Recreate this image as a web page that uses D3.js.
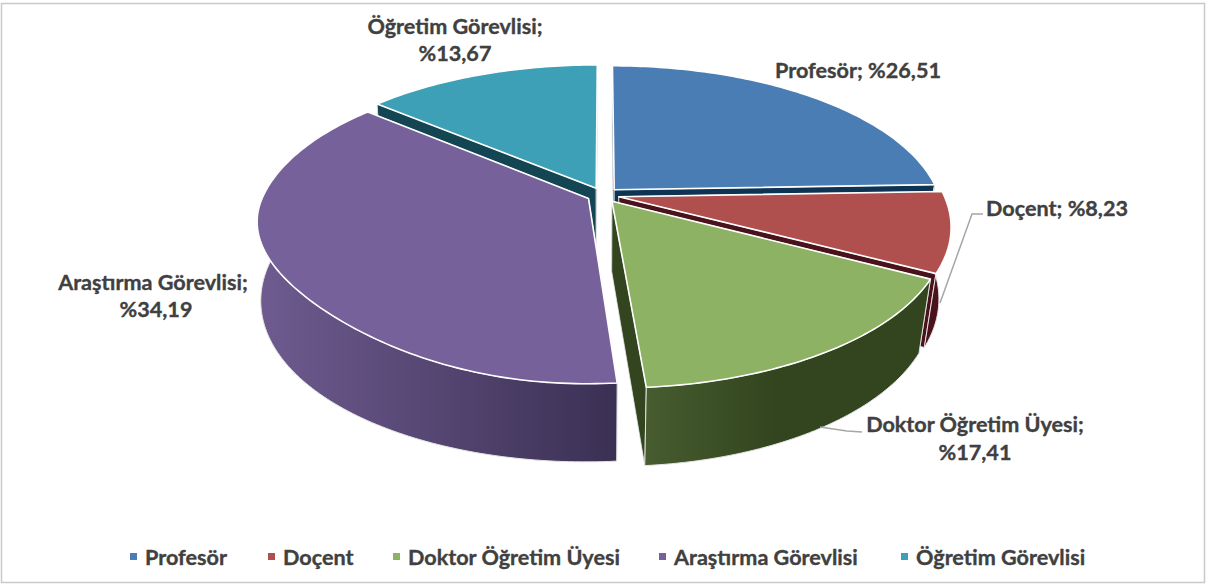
<!DOCTYPE html>
<html>
<head>
<meta charset="utf-8">
<script src="https://cdn.jsdelivr.net/npm/d3@7"></script>
<style>
  body { margin: 0; background: #fff; }
  text { font-family: Lato, "Open Sans", sans-serif; font-weight: 700; fill: #404040; stroke: #404040; stroke-width: 0.35; }
</style>
</head>
<body>
<script>
const categories = ['Profesör', 'Doçent', 'Doktor Öğretim Üyesi', 'Araştırma Görevlisi', 'Öğretim Görevlisi'];
const shares = [26.51, 8.23, 17.41, 34.19, 13.67];

const topColors = ['#4a7db3', '#b0504e', '#8db263', '#77619a', '#3ea0b6'];
const wallColors = [['#0f3352', '#0f3352'], ['#4a121b', '#4a121b'], ['#475c2f', '#32451f'], ['#6f5b90', '#3a3053'], ['#134652', '#134652']];
// back to front
const drawOrder = [4, 0, 1, 3, 2];

const legendX = [145, 283, 408, 674, 916];
const labelLines = [
  [[858, 70]],
  [[1057, 208]],
  [[975, 424], [975, 452]],
  [[153, 282], [156, 309]],
  [[455, 26], [455, 53]]
];
const leaders = {
  1: [[940, 303], [972, 214], [983, 214]],
  2: [[820, 427], [847, 431], [862, 432]]
};

const width = 1208, height = 586;
const cx = 603, cy = 195;
const rx = 325, ry = 149, persp = 0.188, explode = 0.05;

const svg = d3.select('body').append('svg').attr('width', width).attr('height', height);
const defs = svg.append('defs');

svg.append('rect')
  .attr('x', 1.5).attr('y', 3.5).attr('width', 1203).attr('height', 579)
  .attr('fill', '#fff').attr('stroke', '#c9c9c9').attr('stroke-width', 1.5);

// the picture's 3D view squeezes the front of the pie, so pie angles are remapped
const deg = d3.scaleLinear()
  .domain([0, 95.4, 125.1, 187.8, 310.9, 360])
  .range([0, 88, 118, 175.5, 310.3, 360]);

const arcs = d3.pie().sort(null).value(d => d)(shares).map(a => {
  const start = deg(a.startAngle * 180 / Math.PI), end = deg(a.endAngle * 180 / Math.PI);
  const mid = (start + end) / 2 * Math.PI / 180;
  return { start, end, ox: explode * Math.sin(mid), oy: -explode * Math.cos(mid) };
});

// ground plane to screen; level 1 is the underside of the pie
function project(x, y, level) {
  const w = 1 - persp * y;
  const sx = cx + rx * x / w, sy = cy + ry * y / w;
  if (!level) return [sx, sy];
  return [cx + (sx < cx ? 0.985 : 0.965) * (sx - cx), sy + 70 + 8 * y];
}

function rim(a, d, level) {
  const t = d * Math.PI / 180;
  // top edge sits a little tighter in the front left quarter
  const r = !level && d > 180 && d < 270 ? 1 - 0.04 * Math.pow(Math.sin(2 * t), 2) : 1;
  return project(a.ox + r * Math.sin(t), a.oy - r * Math.cos(t), level);
}

function rimPoints(a, from, to, level) {
  const n = Math.max(2, Math.ceil(Math.abs(to - from)));
  return d3.range(n + 1).map(i => rim(a, from + (to - from) * i / n, level));
}

const line = d3.line();

function drawFace(points, fill, edge, w) {
  svg.append('path')
    .attr('d', line(points) + 'Z')
    .attr('fill', fill)
    .attr('stroke', edge)
    .attr('stroke-width', w)
    .attr('stroke-linejoin', 'round');
}

drawOrder.forEach(i => {
  const a = arcs[i];
  const apexTop = project(a.ox, a.oy, 0), apexBottom = project(a.ox, a.oy, 1);

  const grad = defs.append('linearGradient')
    .attr('id', 'wall' + i)
    .attr('gradientUnits', 'userSpaceOnUse');
  const wallFrom = Math.max(a.start, 88), wallTo = Math.min(a.end, 280);
  if (wallTo > wallFrom) {
    const xs = d3.extent(rimPoints(a, wallFrom, wallTo, 0), p => p[0]);
    grad.attr('x1', xs[0]).attr('x2', i === 2 ? xs[0] + (xs[1] - xs[0]) * 0.45 : xs[1]).attr('y1', 0).attr('y2', 0);
  }
  grad.append('stop').attr('offset', 0).attr('stop-color', wallColors[i][0]);
  grad.append('stop').attr('offset', 1).attr('stop-color', wallColors[i][1]);

  // radial cut faces
  [a.start, a.end].forEach(d => {
    drawFace([apexTop, rim(a, d, 0), rim(a, d, 1), apexBottom], wallColors[i][1], '#e8e8e8', 0.8);
  });

  // outer wall
  if (wallTo > wallFrom) {
    const pts = rimPoints(a, wallFrom, wallTo, 0).concat(rimPoints(a, wallTo, wallFrom, 1));
    drawFace(pts, `url(#wall${i})`, '#e4e4e4', 1);
  }

  // top
  const pts = [apexTop].concat(rimPoints(a, a.start, a.end, 0));
  drawFace(pts, topColors[i], '#fff', 1.6);
});

Object.values(leaders).forEach(pts => {
  svg.append('path')
    .attr('d', line(pts))
    .attr('fill', 'none')
    .attr('stroke', '#a6a6a6')
    .attr('stroke-width', 1.5);
});

const pct = d3.format('.2f');
categories.forEach((name, i) => {
  const value = '%' + pct(shares[i]).replace('.', ',');
  const spots = labelLines[i];
  const rows = spots.length > 1 ? [name + ';', value] : [name + '; ' + value];
  rows.forEach((row, j) => {
    svg.append('text')
      .attr('x', spots[j][0]).attr('y', spots[j][1])
      .attr('dy', '0.35em')
      .attr('text-anchor', 'middle')
      .attr('font-size', 21.6)
      .text(row);
  });
});

const legend = svg.selectAll('g.legend').data(categories).join('g').attr('class', 'legend');
legend.append('rect')
  .attr('x', (d, i) => legendX[i] - 15)
  .attr('y', 553)
  .attr('width', 7).attr('height', 7)
  .attr('fill', (d, i) => topColors[i]);
legend.append('text')
  .attr('x', (d, i) => legendX[i])
  .attr('y', 557)
  .attr('dy', '0.35em')
  .attr('font-size', 21.6)
  .text(d => d);
</script>
</body>
</html>
